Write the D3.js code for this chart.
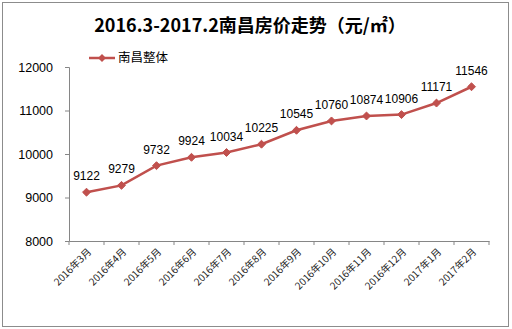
<!DOCTYPE html>
<html>
<head>
<meta charset="utf-8">
<script src="https://cdn.jsdelivr.net/npm/d3@7"></script>
<style>
  body { margin: 0; background: #fff; }
  text { font-family: "Noto Sans CJK SC", "Liberation Sans", sans-serif; }
</style>
</head>
<body>
<div id="wrapper"></div>
<script>
// data
const months = ["2016年3月","2016年4月","2016年5月","2016年6月","2016年7月","2016年8月",
  "2016年9月","2016年10月","2016年11月","2016年12月","2017年1月","2017年2月"]
const prices = [9122, 9279, 9732, 9924, 10034, 10225, 10545, 10760, 10874, 10906, 11171, 11546]
const yTicks = [8000, 9000, 10000, 11000, 12000]
const seriesName = "南昌整体"
const title = "2016.3-2017.2南昌房价走势（元/㎡）"

const dimensions = {
  width: 512,
  height: 329,
  margin: { top: 67, right: 23, bottom: 88, left: 69 }
}
dimensions.boundedWidth = dimensions.width - dimensions.margin.left - dimensions.margin.right
dimensions.boundedHeight = dimensions.height - dimensions.margin.top - dimensions.margin.bottom

const red = "#C0504D"

const svg = d3.select("#wrapper").append("svg")
  .attr("width", dimensions.width)
  .attr("height", dimensions.height)

// outer frame
svg.append("rect")
  .attr("x", 2.5).attr("y", 2.5)
  .attr("width", 506).attr("height", 324)
  .attr("fill", "#fff")
  .attr("stroke", "#8c8c8c")
  .attr("stroke-width", 1)

// title
svg.append("text")
  .attr("x", 250).attr("y", 32)
  .attr("text-anchor", "middle")
  .attr("font-size", 18)
  .attr("font-weight", "bold")
  .attr("fill", "#000")
  .text(title)

const bounds = svg.append("g")
  .attr("transform", `translate(${dimensions.margin.left},${dimensions.margin.top})`)

const xScale = d3.scaleBand()
  .domain(months)
  .range([0, dimensions.boundedWidth])

const yScale = d3.scaleLinear()
  .domain([8000, 12000])
  .range([dimensions.boundedHeight, 0])

const xAccessor = (d, i) => xScale(months[i]) + xScale.bandwidth() / 2
const yAccessor = d => yScale(d)

// y axis
const yAxis = bounds.append("g")
  .call(d3.axisLeft(yScale).tickValues(yTicks).tickSize(4).tickPadding(12).tickFormat(d3.format("d")))
yAxis.select(".domain").attr("stroke", "#868686")
yAxis.selectAll(".tick line").attr("stroke", "#868686")
yAxis.selectAll("text").attr("font-size", 12.5).attr("fill", "#000")
  .style("font-family", "'Liberation Sans', sans-serif")

// x axis, ticks on band boundaries
const xAxis = bounds.append("g")
  .attr("transform", `translate(0,${dimensions.boundedHeight})`)
  .call(d3.axisBottom(xScale).tickSize(0).tickFormat(""))
xAxis.select(".domain").attr("stroke", "#868686")

const boundaries = d3.range(months.length + 1).map(i => i * xScale.step())
xAxis.selectAll(".bound-tick")
  .data(boundaries)
  .join("line")
  .attr("x1", d => d).attr("x2", d => d)
  .attr("y1", 0).attr("y2", 4)
  .attr("stroke", "#868686")

xAxis.selectAll(".xlabel")
  .data(months)
  .join("text")
  .attr("transform", d => `translate(${xScale(d) + xScale.bandwidth() / 2 + 3},${9}) rotate(-45)`)
  .attr("text-anchor", "end")
  .attr("dy", "0.35em")
  .attr("font-size", 10)
  .attr("fill", "#222")
  .text(d => d)

// line
const lineGenerator = d3.line()
  .x(xAccessor)
  .y(yAccessor)

bounds.append("path")
  .attr("d", lineGenerator(prices))
  .attr("fill", "none")
  .attr("stroke", red)
  .attr("stroke-width", 2.5)

const diamond = d3.symbol().type(d3.symbolDiamond2).size(40)

bounds.selectAll(".marker")
  .data(prices)
  .join("path")
  .attr("d", diamond)
  .attr("transform", (d, i) => `translate(${xAccessor(d, i)},${yAccessor(d)})`)
  .attr("fill", red)
  .attr("stroke", red)

bounds.selectAll(".value")
  .data(prices)
  .join("text")
  .attr("x", (d, i) => xAccessor(d, i))
  .attr("y", d => yAccessor(d) - 12)
  .attr("text-anchor", "middle")
  .attr("font-size", 12)
  .attr("fill", "#000")
  .style("font-family", "'Liberation Sans', sans-serif")
  .text(d => d)

// legend
const legend = svg.append("g").attr("transform", "translate(89,58)")
legend.append("line")
  .attr("x1", 0).attr("x2", 26)
  .attr("stroke", red).attr("stroke-width", 2.5)
legend.append("path")
  .attr("d", diamond)
  .attr("transform", "translate(13,0)")
  .attr("fill", red)
legend.append("text")
  .attr("x", 29).attr("y", 0)
  .attr("dy", "0.35em")
  .attr("font-size", 12.5)
  .attr("fill", "#000")
  .text(seriesName)
</script>
</body>
</html>
